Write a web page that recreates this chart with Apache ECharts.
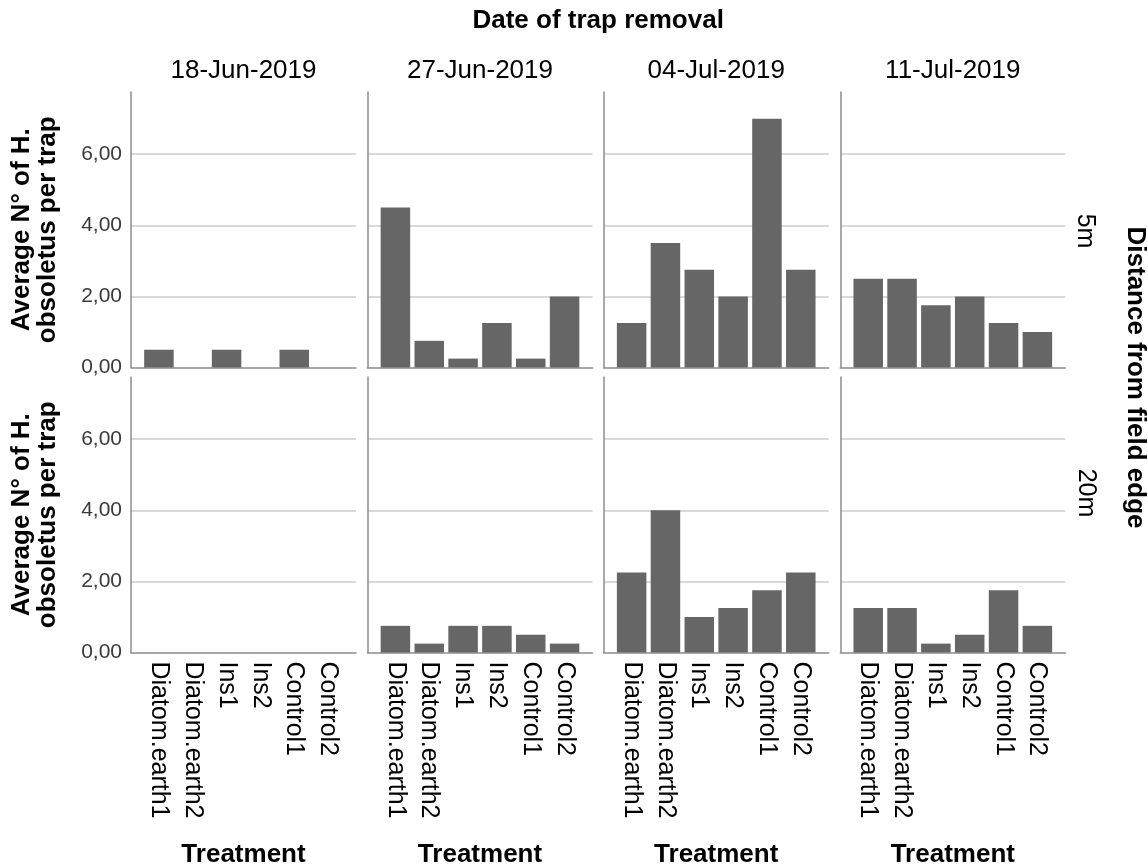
<!DOCTYPE html>
<html>
<head>
<meta charset="utf-8">
<title>H. obsoletus per trap</title>
<script src="https://cdn.jsdelivr.net/npm/echarts@6/dist/echarts.min.js"></script>
<style>
  html, body { margin: 0; padding: 0; background: #fff; }
  #chart { width: 1148px; height: 867px; }
</style>
</head>
<body>
<div id="chart"></div>
<script>
// Categories
const treatments = ['Diatom.earth1', 'Diatom.earth2', 'Ins1', 'Ins2', 'Control1', 'Control2'];
const removalDates = ['18-Jun-2019', '27-Jun-2019', '04-Jul-2019', '11-Jul-2019'];
const distances = ['5m', '20m'];

// Average number of H. obsoletus per trap, 5 m from the field edge
const edge5m_18Jun = [0.5, 0, 0.5, 0, 0.5, 0];
const edge5m_27Jun = [4.5, 0.75, 0.25, 1.25, 0.25, 2.0];
const edge5m_04Jul = [1.25, 3.5, 2.75, 2.0, 7.0, 2.75];
const edge5m_11Jul = [2.5, 2.5, 1.75, 2.0, 1.25, 1.0];

// Average number of H. obsoletus per trap, 20 m from the field edge
const edge20m_18Jun = [0, 0, 0, 0, 0, 0];
const edge20m_27Jun = [0.75, 0.25, 0.75, 0.75, 0.5, 0.25];
const edge20m_04Jul = [2.25, 4.0, 1.0, 1.25, 1.75, 2.25];
const edge20m_11Jul = [1.25, 1.25, 0.25, 0.5, 1.75, 0.75];

const rows = [
  [edge5m_18Jun, edge5m_27Jun, edge5m_04Jul, edge5m_11Jul],
  [edge20m_18Jun, edge20m_27Jun, edge20m_04Jul, edge20m_11Jul]
];

// Value axis range and tick step
const Y_MIN = 0;
const Y_MAX = 7.75;
const Y_STEP = 2;

// Panel layout
const PANEL_LEFT = [131, 367.5, 603.7, 840.3];
const PANEL_W = 225;
const ROW_TOP = [92, 377];
const PANEL_H = 275.5;
const BAR_INSET = 11;

const FONT = '"Liberation Sans", Arial, Helvetica, sans-serif';
const AXIS_COLOR = '#8c8c8c';
const GRID_COLOR = '#cccccc';
const BAR_COLOR = '#666666';

const grids = [], xAxes = [], yAxes = [], series = [];

rows.forEach((rowData, r) => {
  rowData.forEach((values, c) => {
    const top = ROW_TOP[r];
    const left = PANEL_LEFT[c];

    // Frame: axis lines and horizontal grid lines across the full panel
    const fi = grids.length;
    grids.push({ left: left, top: top, width: PANEL_W, height: PANEL_H });
    xAxes.push({
      gridIndex: fi, type: 'category', data: treatments,
      axisLine: { show: true, lineStyle: { color: AXIS_COLOR, width: 1.5 } },
      axisTick: { show: false }, axisLabel: { show: false }, splitLine: { show: false }
    });
    yAxes.push({
      gridIndex: fi, type: 'value', min: Y_MIN, max: Y_MAX, interval: Y_STEP,
      axisLine: { show: true, lineStyle: { color: AXIS_COLOR, width: 1.5 } },
      axisTick: { show: false },
      axisLabel: {
        show: c === 0, showMaxLabel: false, margin: 9,
        fontFamily: FONT, fontSize: 21, color: '#3a3a3a',
        formatter: v => v.toFixed(2).replace('.', ',')
      },
      splitLine: {
        show: true, showMinLine: false, showMaxLine: false,
        lineStyle: { color: GRID_COLOR, width: 1.5 }
      }
    });

    // Bars, inset slightly from the panel edges
    const bi = grids.length;
    grids.push({ left: left + BAR_INSET, top: top, width: PANEL_W - 2 * BAR_INSET, height: PANEL_H });
    xAxes.push({
      gridIndex: bi, type: 'category', data: treatments,
      axisLine: { show: false }, axisTick: { show: false }, splitLine: { show: false },
      axisLabel: {
        show: r === 1, interval: 0, rotate: -90, margin: 9,
        fontFamily: FONT, fontSize: 25, color: '#000',
        padding: [18, 0, 0, 0]
      }
    });
    yAxes.push({ gridIndex: bi, type: 'value', min: Y_MIN, max: Y_MAX, show: false });

    series.push({
      type: 'bar', name: distances[r] + ' ' + removalDates[c],
      xAxisIndex: bi, yAxisIndex: bi, data: values,
      barCategoryGap: '12.8%',
      itemStyle: { color: BAR_COLOR },
      silent: true
    });
  });
});

// Text around the panel grid
const graphic = [];
const txt = (text, x, y, size, bold, rotation) => ({
  type: 'text', x: x, y: y, rotation: rotation || 0,
  style: {
    text: text, fill: '#000',
    font: (bold ? 'bold ' : '') + size + 'px ' + FONT,
    textAlign: 'center', textVerticalAlign: 'middle', lineHeight: 26
  }
});

const panelsMid = (PANEL_LEFT[0] + PANEL_LEFT[3] + PANEL_W) / 2;
graphic.push(txt('Date of trap removal', panelsMid, 21, 26, true));
removalDates.forEach((d, c) => {
  const cx = PANEL_LEFT[c] + PANEL_W / 2;
  graphic.push(txt(d, cx, 71, 26, false));
  graphic.push(txt('Treatment', cx, 855, 26, true));
});
ROW_TOP.forEach((top, r) => {
  const cy = top + PANEL_H / 2;
  graphic.push(txt('Average N° of H.\nobsoletus per trap', 35, cy, 26, true, Math.PI / 2));
});
graphic.push(txt(distances[0], 1085, 231, 25, false, -Math.PI / 2));
graphic.push(txt(distances[1], 1086, 493, 25, false, -Math.PI / 2));
graphic.push(txt('Distance from field edge', 1135, 377.5, 26, true, -Math.PI / 2));

const chart = echarts.init(document.getElementById('chart'), null, { renderer: 'canvas' });
chart.setOption({
  animation: false,
  backgroundColor: '#ffffff',
  grid: grids,
  xAxis: xAxes,
  yAxis: yAxes,
  series: series,
  graphic: graphic
});
</script>
</body>
</html>
